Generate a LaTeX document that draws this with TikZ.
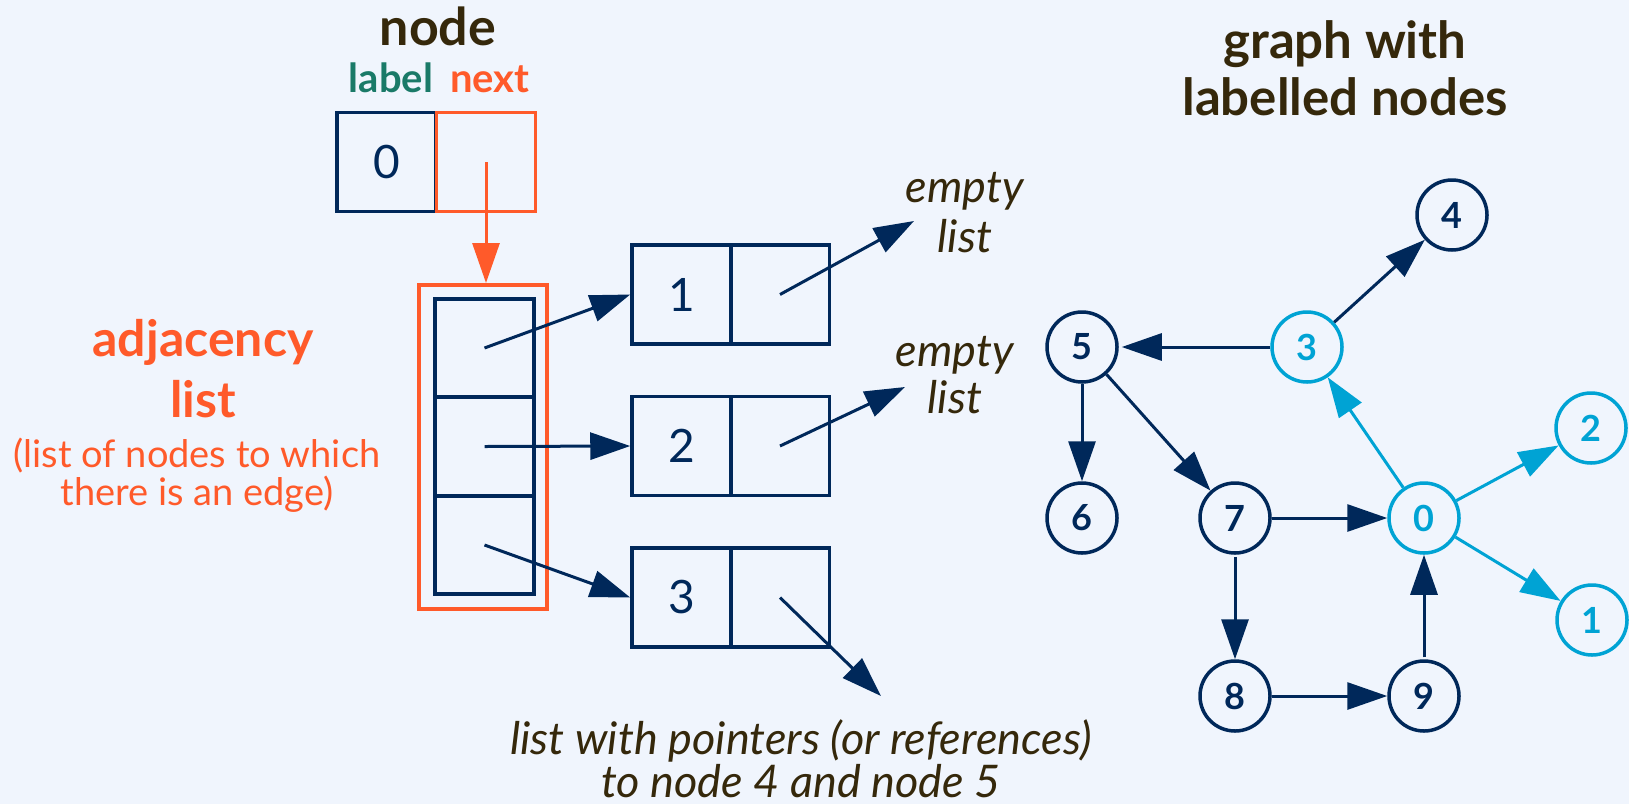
\documentclass[tikz,border=0pt]{standalone}
\usepackage{fontspec}
\setmainfont{Lato}
\usetikzlibrary{arrows.meta}
\definecolor{navy}{HTML}{00285A}
\definecolor{cyanb}{HTML}{00A3D4}
\definecolor{orng}{HTML}{FF5A2A}
\definecolor{tealc}{HTML}{1A7A68}
\definecolor{brn}{HTML}{35280B}
\definecolor{bgc}{HTML}{F0F5FD}
\tikzset{
  cellbox/.style={draw=navy, line width=3.5pt, minimum width=99pt, minimum height=99pt, inner sep=0pt, text=navy, font=\fontsize{46}{50}\selectfont},
  gnode/.style={circle, draw=navy, line width=3.5pt, minimum size=70pt, inner sep=0pt, text=navy, font=\fontsize{36}{40}\selectfont\bfseries},
  cnode/.style={gnode, draw=cyanb, text=cyanb},
  arr/.style={draw=navy, line width=3pt, -{Triangle[length=40pt,width=27pt]}},
  carr/.style={arr, draw=cyanb, -{Triangle[length=40pt,width=27pt,fill=cyanb]}},
  oarr/.style={draw=orng, line width=3pt, -{Triangle[length=40pt,width=27pt]}},
  ital/.style={text=brn, font=\fontsize{45}{50}\selectfont\itshape, align=center, anchor=base, inner sep=0pt},
}
\begin{document}
\begin{tikzpicture}[x=1pt,y=-1pt]
\fill[bgc] (0,0) rectangle (1629,804);
\useasboundingbox (0,0) rectangle (1629,804);

% titles (base anchor = baseline of last line)
\node[text=brn, font=\fontsize{52}{58}\selectfont\bfseries, anchor=base, inner sep=0pt] (ttl) at (438,45) {node};
\node[text=tealc, font=\fontsize{40}{44}\selectfont\bfseries, anchor=base, inner sep=0pt] (tlab) at (391,92) {label};
\node[text=orng, font=\fontsize{40}{44}\selectfont\bfseries, anchor=base, inner sep=0pt] (tnext) at (490,92) {next};
\node[text=brn, font=\fontsize{51}{57}\selectfont\bfseries, align=center, anchor=base, inner sep=0pt] (gttl) at (1345,115) {graph with\\labelled nodes};

% top node
\node[cellbox] (lab) at (386.5,162) {0};
\node[cellbox, draw=orng] (nxt) at (486,162) {};

% adjacency list
\node[draw=orng, line width=4pt, minimum width=128pt, minimum height=324pt, inner sep=0pt] (adj) at (483,447) {};
\node[cellbox, minimum height=98pt] (a1) at (484.5,348) {};
\node[cellbox, minimum height=98pt] (a2) at (484.5,446.5) {};
\node[cellbox, minimum height=98pt] (a3) at (484.5,545) {};
\draw[oarr] (nxt.center) -- (nxt.center |- adj.north);

\node[text=orng, font=\fontsize{50}{61}\selectfont\bfseries, align=center, anchor=base, inner sep=0pt] (adjt) at (203,417) {adjacency\\list};
\node[text=orng, font=\fontsize{38}{38}\selectfont, align=center, anchor=base, inner sep=0pt] (adjs) at (197,505) {(list of nodes to which\\there is an edge)};

% linked list cells
\node[cellbox] (l1) at (681.5,294.5) {1};
\node[cellbox] (r1) at (780,294.5) {};
\node[cellbox] (l2) at (681.5,446) {2};
\node[cellbox] (r2) at (780,446) {};
\node[cellbox] (l3) at (681.5,597.5) {3};
\node[cellbox] (r3) at (780,597.5) {};

\draw[arr] (a1.center) -- (l1.west);
\draw[arr] (a2.center) -- (l2.west);
\draw[arr] (a3.center) -- (l3.west);

\coordinate (e1) at (914,221);
\coordinate (e2) at (905,387);
\coordinate (e3) at (881,696);
\draw[arr] (r1.center) -- (e1);
\draw[arr] (r2.center) -- (e2);
\draw[arr] (r3.center) -- (e3);

\node[ital] (em1) at (965,252) {empty\\list};
\node[ital, font=\fontsize{45}{47}\selectfont\itshape] (em2) at (955,413) {empty\\list};
\node[ital, font=\fontsize{45}{43}\selectfont\itshape] (bot) at (801,797) {list with pointers (or references)\\to node 4 and node 5};

% graph
\node[cnode] (g0) at (1424,518) {0};
\node[cnode] (g1) at (1592,620) {1};
\node[cnode] (g2) at (1591,428) {2};
\node[cnode] (g3) at (1307,347) {3};
\node[gnode] (g4) at (1452,215) {4};
\node[gnode] (g5) at (1082,347) {5};
\node[gnode] (g6) at (1082,518) {6};
\node[gnode] (g7) at (1235,518) {7};
\node[gnode] (g8) at (1235,696) {8};
\node[gnode] (g9) at (1424,696) {9};

\draw[arr, shorten >=3pt] (g3) -- (g5);
\draw[arr] (g3) -- (g4);
\draw[carr] (g0) -- (g3);
\draw[carr] (g0) -- (g2);
\draw[carr] (g0) -- (g1);
\draw[arr] (g5) -- (g6);
\draw[arr] (g5) -- (g7);
\draw[arr] (g7) -- (g0);
\draw[arr, shorten <=2pt] (g7) -- (g8);
\draw[arr] (g8) -- (g9);
\draw[arr, shorten <=2pt] (g9) -- (g0);
\end{tikzpicture}
\end{document}
